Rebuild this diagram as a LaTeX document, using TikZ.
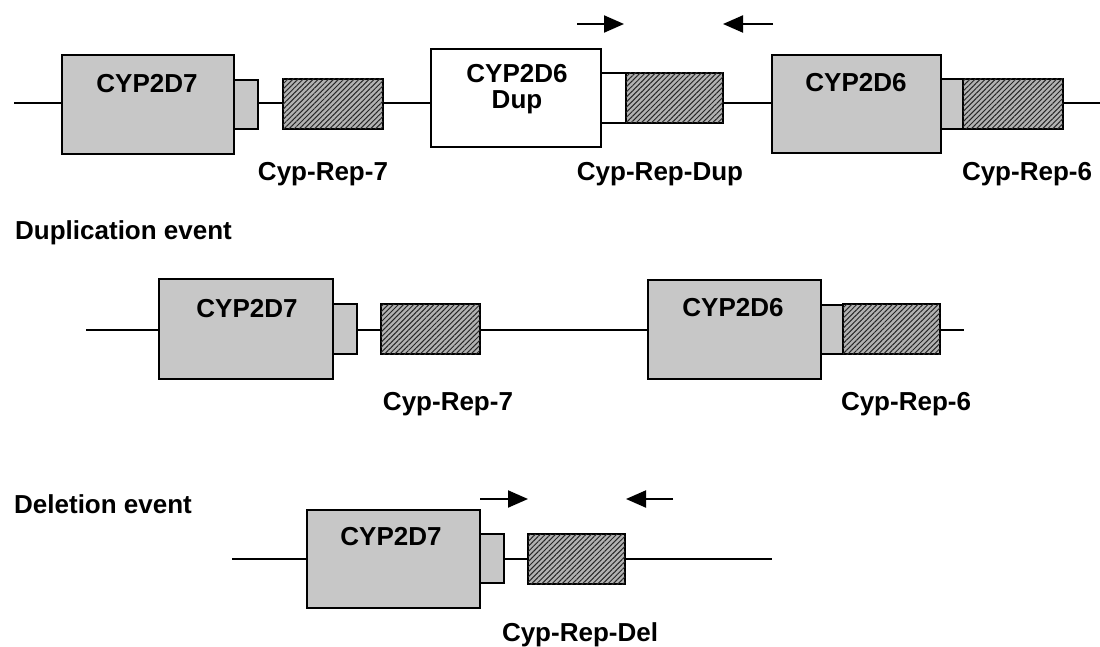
\documentclass[tikz,border=0pt]{standalone}
\usepackage{fontspec}
\setmainfont{Liberation Sans}
\usetikzlibrary{arrows.meta,patterns.meta}
\begin{document}
\begin{tikzpicture}[x=1pt,y=-1pt,
  genebox/.style={draw=black, line width=1.4pt, fill=black!22, inner sep=0pt, outer sep=0pt, anchor=north west},
  whitebox/.style={genebox, fill=white},
  hatchbox/.style={genebox, fill=black!30, postaction={pattern={Lines[angle=45,distance=3.6pt,line width=1pt]}, pattern color=black!85}},
  dna/.style={line width=1.3pt},
  lab/.style={font=\fontsize{26}{30}\selectfont\bfseries, inner sep=0pt, anchor=base},
  head/.style={font=\fontsize{26}{30}\selectfont\bfseries, inner sep=0pt, anchor=base west},
  primer/.style={line width=2pt, -{Triangle[length=20pt,width=17pt]}}]
\useasboundingbox (0,0) rectangle (1100,647);

% ---------- row 1 ----------
\coordinate (s1) at (14,103);
\coordinate (e1) at (1100,103);
\draw[dna] (s1) -- (e1);
\node[genebox,minimum width=172pt,minimum height=99pt] (a7) at (62,55) {};
\node[genebox,minimum width=24pt,minimum height=49pt] (a7s) at (234,80) {};
\node[hatchbox,minimum width=100pt,minimum height=50pt] (a7r) at (283,79) {};
\node[whitebox,minimum width=170pt,minimum height=98pt] (adup) at (431,49) {};
\node[whitebox,minimum width=25pt,minimum height=50pt] (adups) at (601,73) {};
\node[hatchbox,minimum width=97pt,minimum height=50pt] (adupr) at (626,73) {};
\node[genebox,minimum width=169pt,minimum height=98pt] (a6) at (772,55) {};
\node[genebox,minimum width=22pt,minimum height=50pt] (a6s) at (941,79) {};
\node[hatchbox,minimum width=100pt,minimum height=50pt] (a6r) at (963,79) {};

\node[lab] (ta7) at (147,93) {CYP2D7};
\node[lab] (tdup1) at (517,83) {CYP2D6};
\node[lab] (tdup2) at (517,109) {Dup};
\node[lab] (ta6) at (856,92) {CYP2D6};
\node[lab] (la7) at (323,181) {Cyp-Rep-7};
\node[lab] (ladup) at (660,181) {Cyp-Rep-Dup};
\node[lab] (la6) at (1027,181) {Cyp-Rep-6};

\coordinate (p1a) at (577,24); \coordinate (p1b) at (624,24);
\coordinate (p2a) at (773,24); \coordinate (p2b) at (723,24);
\draw[primer] (p1a) -- (p1b);
\draw[primer] (p2a) -- (p2b);

% ---------- duplication event ----------
\node[head] (hdup) at (15,240) {Duplication event};
\coordinate (s2) at (86,330);
\coordinate (e2) at (964,330);
\draw[dna] (s2) -- (e2);
\node[genebox,minimum width=174pt,minimum height=100pt] (b7) at (159,279) {};
\node[genebox,minimum width=24pt,minimum height=50pt] (b7s) at (333,304) {};
\node[hatchbox,minimum width=99pt,minimum height=50pt] (b7r) at (381,304) {};
\node[genebox,minimum width=173pt,minimum height=99pt] (b6) at (648,280) {};
\node[genebox,minimum width=22pt,minimum height=49pt] (b6s) at (821,305) {};
\node[hatchbox,minimum width=97pt,minimum height=50pt] (b6r) at (843,304) {};
\node[lab] (tb7) at (247,317) {CYP2D7};
\node[lab] (tb6) at (733,316) {CYP2D6};
\node[lab] (lb7) at (448,410) {Cyp-Rep-7};
\node[lab] (lb6) at (906,410) {Cyp-Rep-6};

% ---------- deletion event ----------
\node[head] (hdel) at (14,513) {Deletion event};
\coordinate (s3) at (232,559);
\coordinate (e3) at (772,559);
\draw[dna] (s3) -- (e3);
\node[genebox,minimum width=173pt,minimum height=98pt] (c7) at (307,510) {};
\node[genebox,minimum width=24pt,minimum height=49pt] (c7s) at (480,534) {};
\node[hatchbox,minimum width=97pt,minimum height=50pt] (c7r) at (528,534) {};
\node[lab] (tc7) at (391,545) {CYP2D7};
\node[lab] (lc7) at (580,641) {Cyp-Rep-Del};
\coordinate (p3a) at (480,499); \coordinate (p3b) at (528,499);
\coordinate (p4a) at (673,499); \coordinate (p4b) at (626,499);
\draw[primer] (p3a) -- (p3b);
\draw[primer] (p4a) -- (p4b);
\end{tikzpicture}
\end{document}
